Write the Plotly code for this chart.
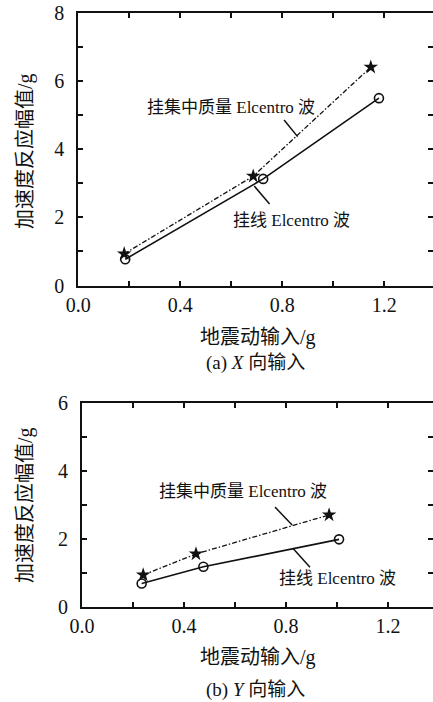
import plotly.graph_objects as go

# (a) X-direction input
x_mass_a = [0.180, 0.686, 1.147]
y_mass_a = [0.93, 3.21, 6.41]
x_line_a = [0.184, 0.725, 1.179]
y_line_a = [0.77, 3.13, 5.50]

# (b) Y-direction input
x_mass_b = [0.240, 0.447, 0.969]
y_mass_b = [0.93, 1.55, 2.70]
x_line_b = [0.234, 0.476, 1.008]
y_line_b = [0.68, 1.17, 1.98]

label_mass = "挂集中质量 Elcentro 波"
label_line = "挂线 Elcentro 波"
y_title = "加速度反应幅值/g"
x_title = "地震动输入/g"
caption_a = "(a) <i>X</i> 向输入"
caption_b = "(b) <i>Y</i> 向输入"

x_ticks = [0.0, 0.2, 0.4, 0.6, 0.8, 1.0, 1.2, 1.4]
x_ticktext = ["0.0", "", "0.4", "", "0.8", "", "1.2", ""]
y_ticks_a = list(range(0, 9))
y_ticks_b = list(range(0, 7))

W, H = 433, 702
SERIF = "Liberation Serif, Times New Roman, Noto Sans CJK SC, serif"
BLACK = "#111111"

fig = go.Figure()


def add_pair(xm, ym, xl, yl, xa, ya):
    fig.add_trace(go.Scatter(
        x=xm, y=ym, xaxis=xa, yaxis=ya, mode="lines+markers",
        line=dict(color=BLACK, width=1.3, dash="5px,2px,1.5px,2px"),
        marker=dict(symbol="star", size=11, color=BLACK),
        showlegend=False, hoverinfo="skip"))
    fig.add_trace(go.Scatter(
        x=xl, y=yl, xaxis=xa, yaxis=ya, mode="lines+markers",
        line=dict(color=BLACK, width=1.6),
        marker=dict(symbol="circle-open", size=9, color=BLACK,
                    line=dict(width=1.6, color=BLACK)),
        showlegend=False, hoverinfo="skip"))


add_pair(x_mass_a, y_mass_a, x_line_a, y_line_a, "x", "y")
add_pair(x_mass_b, y_mass_b, x_line_b, y_line_b, "x2", "y2")

tickfont = dict(family=SERIF, size=20, color=BLACK)


def xaxis_cfg(left_px, anchor):
    return dict(
        domain=[left_px / W, 1.0], range=[0, (W - left_px) / 255.0],
        anchor=anchor, tickmode="array", tickvals=x_ticks, ticktext=x_ticktext,
        ticks="inside", ticklen=5, tickwidth=1.5, tickcolor=BLACK,
        showline=True, linewidth=2, linecolor=BLACK, mirror="ticks",
        showgrid=False, zeroline=False, tickfont=tickfont,
        automargin=False, ticklabelstandoff=0)


def yaxis_cfg(bottom_px, top_px, rng, vals, anchor):
    return dict(
        domain=[(H - bottom_px) / H, (H - top_px) / H], range=rng,
        anchor=anchor, tickmode="array", tickvals=vals,
        ticktext=[str(v) if v % 2 == 0 else "" for v in vals],
        ticks="inside", ticklen=5, tickwidth=1.5, tickcolor=BLACK,
        showline=True, linewidth=2, linecolor=BLACK, mirror=False,
        showgrid=False, zeroline=False, tickfont=tickfont,
        automargin=False, ticklabelstandoff=8)


def right_ticks(over, anchor, rng, vals):
    return dict(
        overlaying=over, side="right", anchor=anchor, range=rng,
        tickmode="array", tickvals=vals, ticks="inside", ticklen=5,
        tickwidth=1.5, tickcolor=BLACK, showticklabels=False,
        showline=False, showgrid=False, zeroline=False, automargin=False)


fig.update_layout(
    width=W, height=H, autosize=False,
    margin=dict(l=0, r=0, t=0, b=0, pad=0),
    paper_bgcolor="white", plot_bgcolor="white",
    xaxis=xaxis_cfg(78.3, "y"),
    yaxis=yaxis_cfg(285.5, 13, [0, 8], y_ticks_a, "x"),
    xaxis2=xaxis_cfg(82, "y2"),
    yaxis2=yaxis_cfg(606.5, 403, [0, 6], y_ticks_b, "x2"),
    yaxis3=right_ticks("y", "x", [0, 8], y_ticks_a),
    yaxis4=right_ticks("y2", "x2", [0, 6], y_ticks_b),
)

# invisible traces so the right-hand tick axes are rendered
fig.add_trace(go.Scatter(x=[None], y=[None], xaxis="x", yaxis="y3",
                         showlegend=False, hoverinfo="skip"))
fig.add_trace(go.Scatter(x=[None], y=[None], xaxis="x2", yaxis="y4",
                         showlegend=False, hoverinfo="skip"))

labfont = dict(family=SERIF, size=17, color=BLACK)
ann = []


def note(x, y, xref, yref, text, font, angle=0):
    ann.append(dict(x=x, y=y, xref=xref, yref=yref, text=text,
                    textangle=angle, showarrow=False, font=font,
                    xanchor="center", yanchor="middle"))


# curve labels, data coordinates
note(0.599, 5.24, "x", "y", label_mass, labfont)
note(0.836, 1.92, "x", "y", label_line, labfont)
note(0.633, 3.38, "x2", "y2", label_mass, labfont)
note(1.002, 0.84, "x2", "y2", label_line, labfont)

titlefont = dict(family=SERIF, size=20, color=BLACK)
capfont = dict(family=SERIF, size=19, color=BLACK)
for ycen in (151, 505):
    note(25 / W, (H - ycen) / H, "paper", "paper", y_title, titlefont, -90)
for ycen, cap_y, cap in ((337, 363, caption_a), (657, 690, caption_b)):
    note(258 / W, (H - ycen) / H, "paper", "paper", x_title, titlefont)
    note(255 / W, (H - cap_y) / H, "paper", "paper", cap, capfont)
fig.update_layout(annotations=ann)

# leader lines from labels to curves
leaders = [
    ("x", "y", 0.807, 4.86, 0.860, 4.37),
    ("x", "y", 0.690, 2.92, 0.750, 2.39),
    ("x2", "y2", 0.757, 2.93, 0.824, 2.40),
    ("x2", "y2", 0.827, 1.72, 0.894, 1.16),
]
for xr, yr, xa0, ya0, xa1, ya1 in leaders:
    fig.add_shape(type="line", xref=xr, yref=yr, x0=xa0, y0=ya0, x1=xa1, y1=ya1,
                  line=dict(color=BLACK, width=1.5))

fig.write_html("out.html")
